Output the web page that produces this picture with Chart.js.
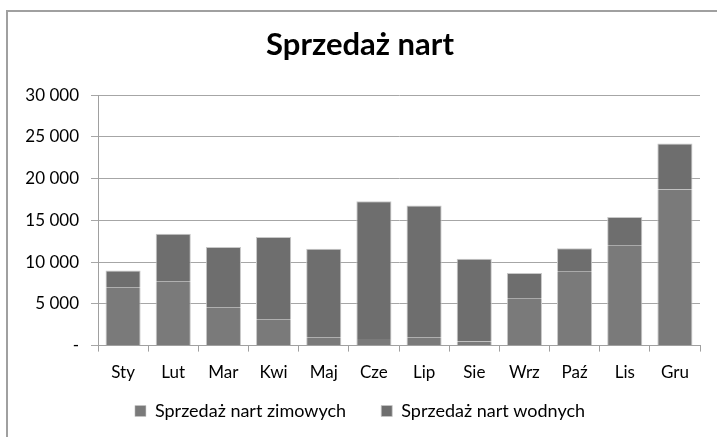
<!DOCTYPE html>
<html>
<head>
<meta charset="utf-8">
<script src="https://cdn.jsdelivr.net/npm/chart.js@4"></script>
<style>
  html, body { margin: 0; padding: 0; background: #fff; }
  #wrap { position: relative; width: 717px; height: 437px; overflow: hidden; }
  #frame { position: absolute; left: 6px; top: 10px; width: 800px; height: 500px;
           border-left: 2px solid #a0a0a0; border-top: 2px solid #a0a0a0; }
  canvas { position: absolute; left: 0; top: 0; }
</style>
</head>
<body>
<div id="wrap">
  <div id="frame"></div>
  <canvas id="chart" width="717" height="437"></canvas>
</div>
<script>
// ── Dane ─────────────────────────────────────────────────────────────────────
var months  = ['Sty', 'Lut', 'Mar', 'Kwi', 'Maj', 'Cze', 'Lip', 'Sie', 'Wrz', 'Paź', 'Lis', 'Gru'];
var zimowe  = [7000, 7700, 4600, 3150, 1000, 800, 1000, 500, 5600, 8850, 11950, 18700];
var wodne   = [2000, 5700, 7200, 9850, 10600, 16500, 15800, 9900, 3100, 2800, 3450, 5500];
var yTicks  = [0, 5000, 10000, 15000, 20000, 25000, 30000];

var FONT = 'Lato, "Open Sans", sans-serif';

function fmtTick(v) {
  if (v === 0) return '-';
  return String(v).replace(/\B(?=(\d{3})+(?!\d))/g, ' ');
}

new Chart(document.getElementById('chart').getContext('2d'), {
  type: 'bar',
  data: {
    labels: months,
    datasets: [{
      label: 'Sprzedaż nart zimowych',
      data: zimowe,
      backgroundColor: '#7a7a7a',
      borderColor: '#c8c8c8',
      borderWidth: { left: 1, right: 1, top: 0, bottom: 0 },
      borderSkipped: false,
      barPercentage: 0.7,
      categoryPercentage: 1
    }, {
      label: 'Sprzedaż nart wodnych',
      data: wodne,
      backgroundColor: '#6e6e6e',
      borderColor: '#c8c8c8',
      borderWidth: { left: 1, right: 1, top: 1, bottom: 0 },
      borderSkipped: false,
      barPercentage: 0.7,
      categoryPercentage: 1
    }]
  },
  options: {
    responsive: false,
    animation: false,
    layout: { padding: { left: 20, right: 17, top: 12, bottom: 7 } },
    plugins: {
      title: {
        display: true,
        text: 'Sprzedaż nart',
        color: '#000',
        font: { family: FONT, size: 31, weight: 'bold' },
        padding: { top: 14, bottom: 32 }
      },
      legend: {
        position: 'bottom',
        labels: {
          color: '#000',
          font: { family: FONT, size: 18 },
          boxWidth: 11,
          boxHeight: 11,
          padding: 8,
          generateLabels: function (chart) {
            var items = Chart.defaults.plugins.legend.labels.generateLabels(chart);
            // szerszy odstęp między pozycjami legendy (jak w Excelu)
            if (items.length) items[0].text += '\u2003\u2002 ';
            return items;
          }
        }
      },
      tooltip: { enabled: false }
    },
    scales: {
      x: {
        stacked: true,
        border: { color: '#a0a0a0', width: 1 },
        grid: { drawOnChartArea: false, drawTicks: true, tickLength: 6, color: '#a0a0a0', offset: true },
        ticks: { color: '#000', font: { family: FONT, size: 17 }, padding: 11 }
      },
      y: {
        stacked: true,
        min: 0,
        max: 30000,
        afterBuildTicks: function (axis) {
          axis.ticks = yTicks.map(function (v) { return { value: v }; });
        },
        afterFit: function (axis) { axis.width = 78; },
        border: { color: '#a0a0a0', width: 1 },
        grid: { color: '#a6a6a6', lineWidth: 1, tickLength: 7 },
        ticks: {
          color: '#000',
          font: { family: FONT, size: 17 },
          padding: 12,
          callback: function (v) { return fmtTick(v); }
        }
      }
    }
  }
});
</script>
</body>
</html>
